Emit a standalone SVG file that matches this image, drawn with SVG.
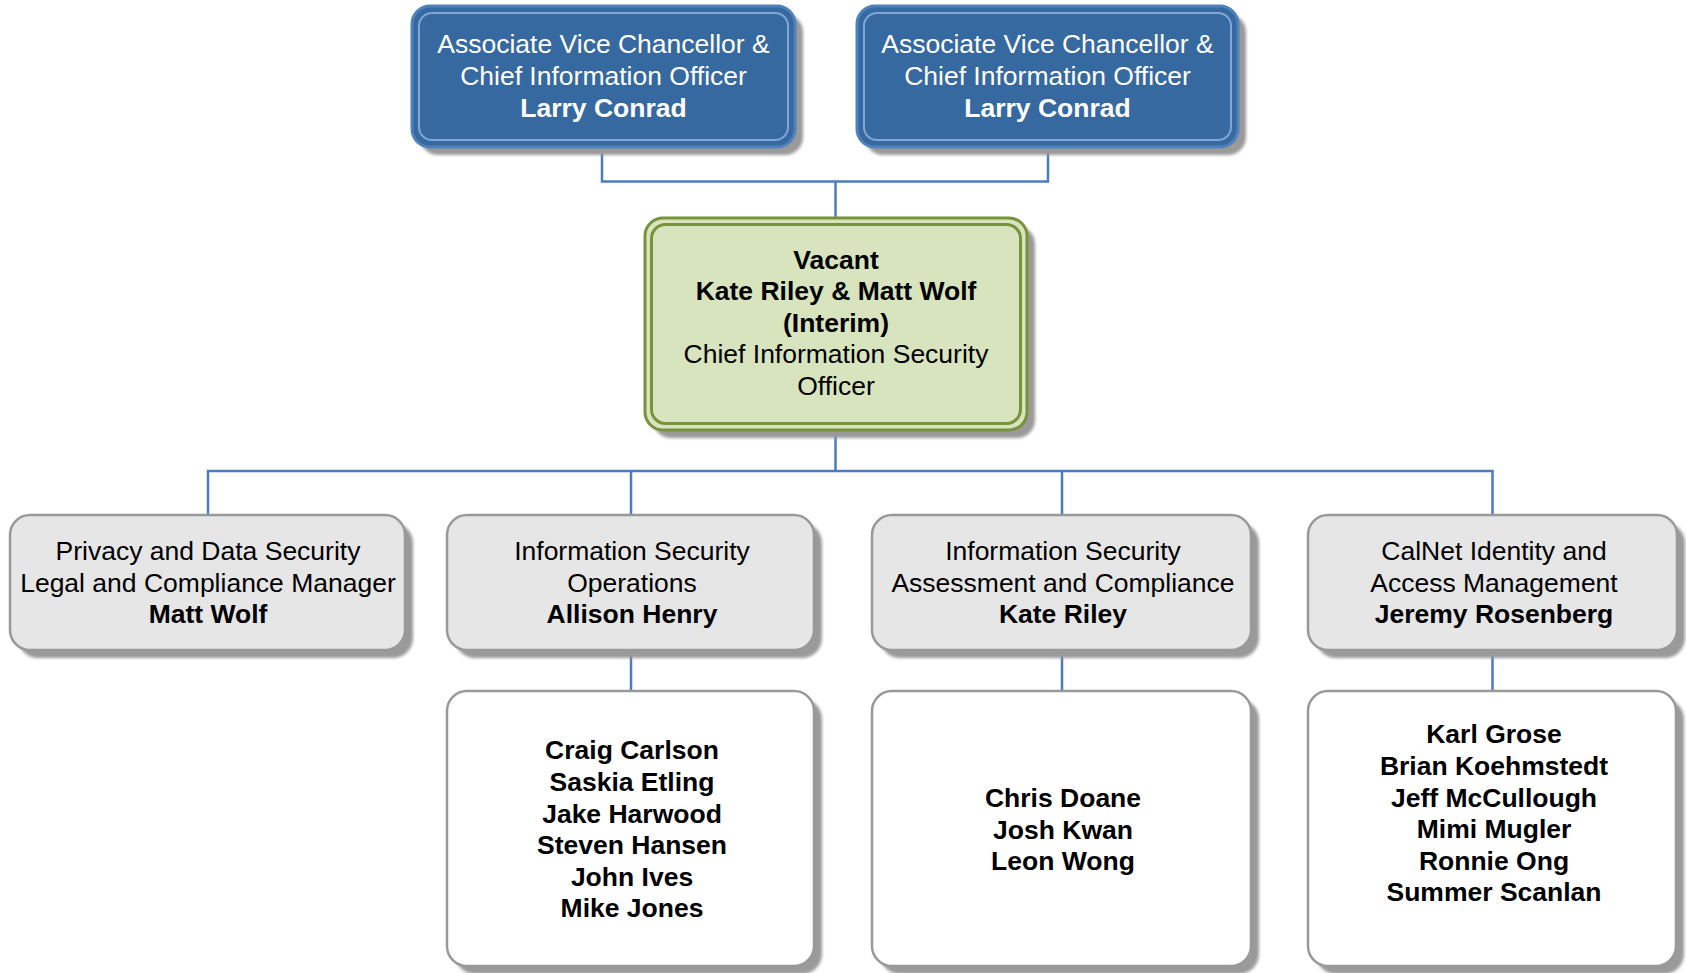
<svg xmlns="http://www.w3.org/2000/svg" width="1686" height="973" viewBox="0 0 1686 973">
<defs>
<filter id="blur" x="-10%" y="-10%" width="120%" height="120%"><feGaussianBlur stdDeviation="1.5"/></filter>
<style>
text{font-family:"Liberation Sans",Arial,sans-serif;font-size:26.5px;text-anchor:middle;fill:#000}
.w{fill:#fff}
.b{font-weight:bold}
.sh{fill:#9a9a9a;filter:url(#blur)}
.blueO{fill:#36699f;stroke:#4f81bd;stroke-width:3}
.blueI{fill:none;stroke:#7fa6d6;stroke-width:2}
.greenO{fill:#d7e4bd;stroke:#77933c;stroke-width:3}
.greenI{fill:none;stroke:#77933c;stroke-width:3}
.gray{fill:#e6e6e6;stroke:#999;stroke-width:2.5}
.white{fill:#fff;stroke:#999;stroke-width:2.5}
.con{fill:none;stroke:#4a7cc4;stroke-width:2.5}
</style>
</defs>
<g id="connectors">
<path class="con" d="M602 147 V181.5 H1048 V147 M835.5 181.5 V218"/>
<path class="con" d="M835.5 430 V471 M208 515 V471 H1492.5 V515 M631 471 V515 M1062 471 V515"/>
<path class="con" d="M631 650 V691 M1062 650 V691 M1492.5 650 V691"/>
</g>
<g id="avc1">
<rect class="sh" x="420" y="14" width="383" height="141" rx="18"/>
<rect class="blueO" x="412" y="6" width="383" height="141" rx="18"/>
<rect class="blueI" x="419" y="13" width="369" height="127" rx="13"/>
<text class="w" x="603.5" y="53">Associate Vice Chancellor &amp;</text>
<text class="w" x="603.5" y="85">Chief Information Officer</text>
<text class="w b" x="603.5" y="117">Larry Conrad</text>
</g>
<g id="avc2">
<rect class="sh" x="865" y="14" width="381" height="141" rx="18"/>
<rect class="blueO" x="857" y="6" width="381" height="141" rx="18"/>
<rect class="blueI" x="864" y="13" width="367" height="127" rx="13"/>
<text class="w" x="1047.5" y="53">Associate Vice Chancellor &amp;</text>
<text class="w" x="1047.5" y="85">Chief Information Officer</text>
<text class="w b" x="1047.5" y="117">Larry Conrad</text>
</g>
<g id="ciso">
<rect class="sh" x="653" y="226" width="382" height="212" rx="18"/>
<rect class="greenO" x="645" y="218" width="382" height="212" rx="18"/>
<rect class="greenI" x="651.5" y="224.5" width="369" height="199" rx="14"/>
<text class="b" x="836" y="268.5">Vacant</text>
<text class="b" x="836" y="300">Kate Riley &amp; Matt Wolf</text>
<text class="b" x="836" y="331.7">(Interim)</text>
<text x="836" y="363.4">Chief Information Security</text>
<text x="836" y="395">Officer</text>
</g>
<g id="privacy">
<rect class="sh" x="18" y="523" width="395" height="135" rx="20"/>
<rect class="gray" x="10" y="515" width="395" height="135" rx="20"/>
<text x="208" y="560">Privacy and Data Security</text>
<text x="208" y="592">Legal and Compliance Manager</text>
<text class="b" x="208" y="623">Matt Wolf</text>
</g>
<g id="ops">
<rect class="sh" x="455" y="523" width="367" height="135" rx="20"/>
<rect class="gray" x="447" y="515" width="367" height="135" rx="20"/>
<text x="632" y="560">Information Security</text>
<text x="632" y="592">Operations</text>
<text class="b" x="632" y="623">Allison Henry</text>
</g>
<g id="assess">
<rect class="sh" x="880" y="523" width="379" height="135" rx="20"/>
<rect class="gray" x="872" y="515" width="379" height="135" rx="20"/>
<text x="1063" y="560">Information Security</text>
<text x="1063" y="592">Assessment and Compliance</text>
<text class="b" x="1063" y="623">Kate Riley</text>
</g>
<g id="calnet">
<rect class="sh" x="1316" y="523" width="369" height="135" rx="20"/>
<rect class="gray" x="1308" y="515" width="369" height="135" rx="20"/>
<text x="1494" y="560">CalNet Identity and</text>
<text x="1494" y="592">Access Management</text>
<text class="b" x="1494" y="623">Jeremy Rosenberg</text>
</g>
<g id="ops-team">
<rect class="sh" x="455" y="699" width="367" height="275" rx="20"/>
<rect class="white" x="447" y="691" width="367" height="275" rx="20"/>
<text class="b" x="632" y="759">Craig Carlson</text>
<text class="b" x="632" y="791">Saskia Etling</text>
<text class="b" x="632" y="822.5">Jake Harwood</text>
<text class="b" x="632" y="854">Steven Hansen</text>
<text class="b" x="632" y="885.5">John Ives</text>
<text class="b" x="632" y="917">Mike Jones</text>
</g>
<g id="assess-team">
<rect class="sh" x="880" y="699" width="379" height="275" rx="20"/>
<rect class="white" x="872" y="691" width="379" height="275" rx="20"/>
<text class="b" x="1063" y="807">Chris Doane</text>
<text class="b" x="1063" y="838.5">Josh Kwan</text>
<text class="b" x="1063" y="870">Leon Wong</text>
</g>
<g id="calnet-team">
<rect class="sh" x="1316" y="699" width="368" height="275" rx="20"/>
<rect class="white" x="1308" y="691" width="368" height="275" rx="20"/>
<text class="b" x="1494" y="743">Karl Grose</text>
<text class="b" x="1494" y="775">Brian Koehmstedt</text>
<text class="b" x="1494" y="806.5">Jeff McCullough</text>
<text class="b" x="1494" y="838">Mimi Mugler</text>
<text class="b" x="1494" y="869.5">Ronnie Ong</text>
<text class="b" x="1494" y="901">Summer Scanlan</text>
</g>
</svg>
